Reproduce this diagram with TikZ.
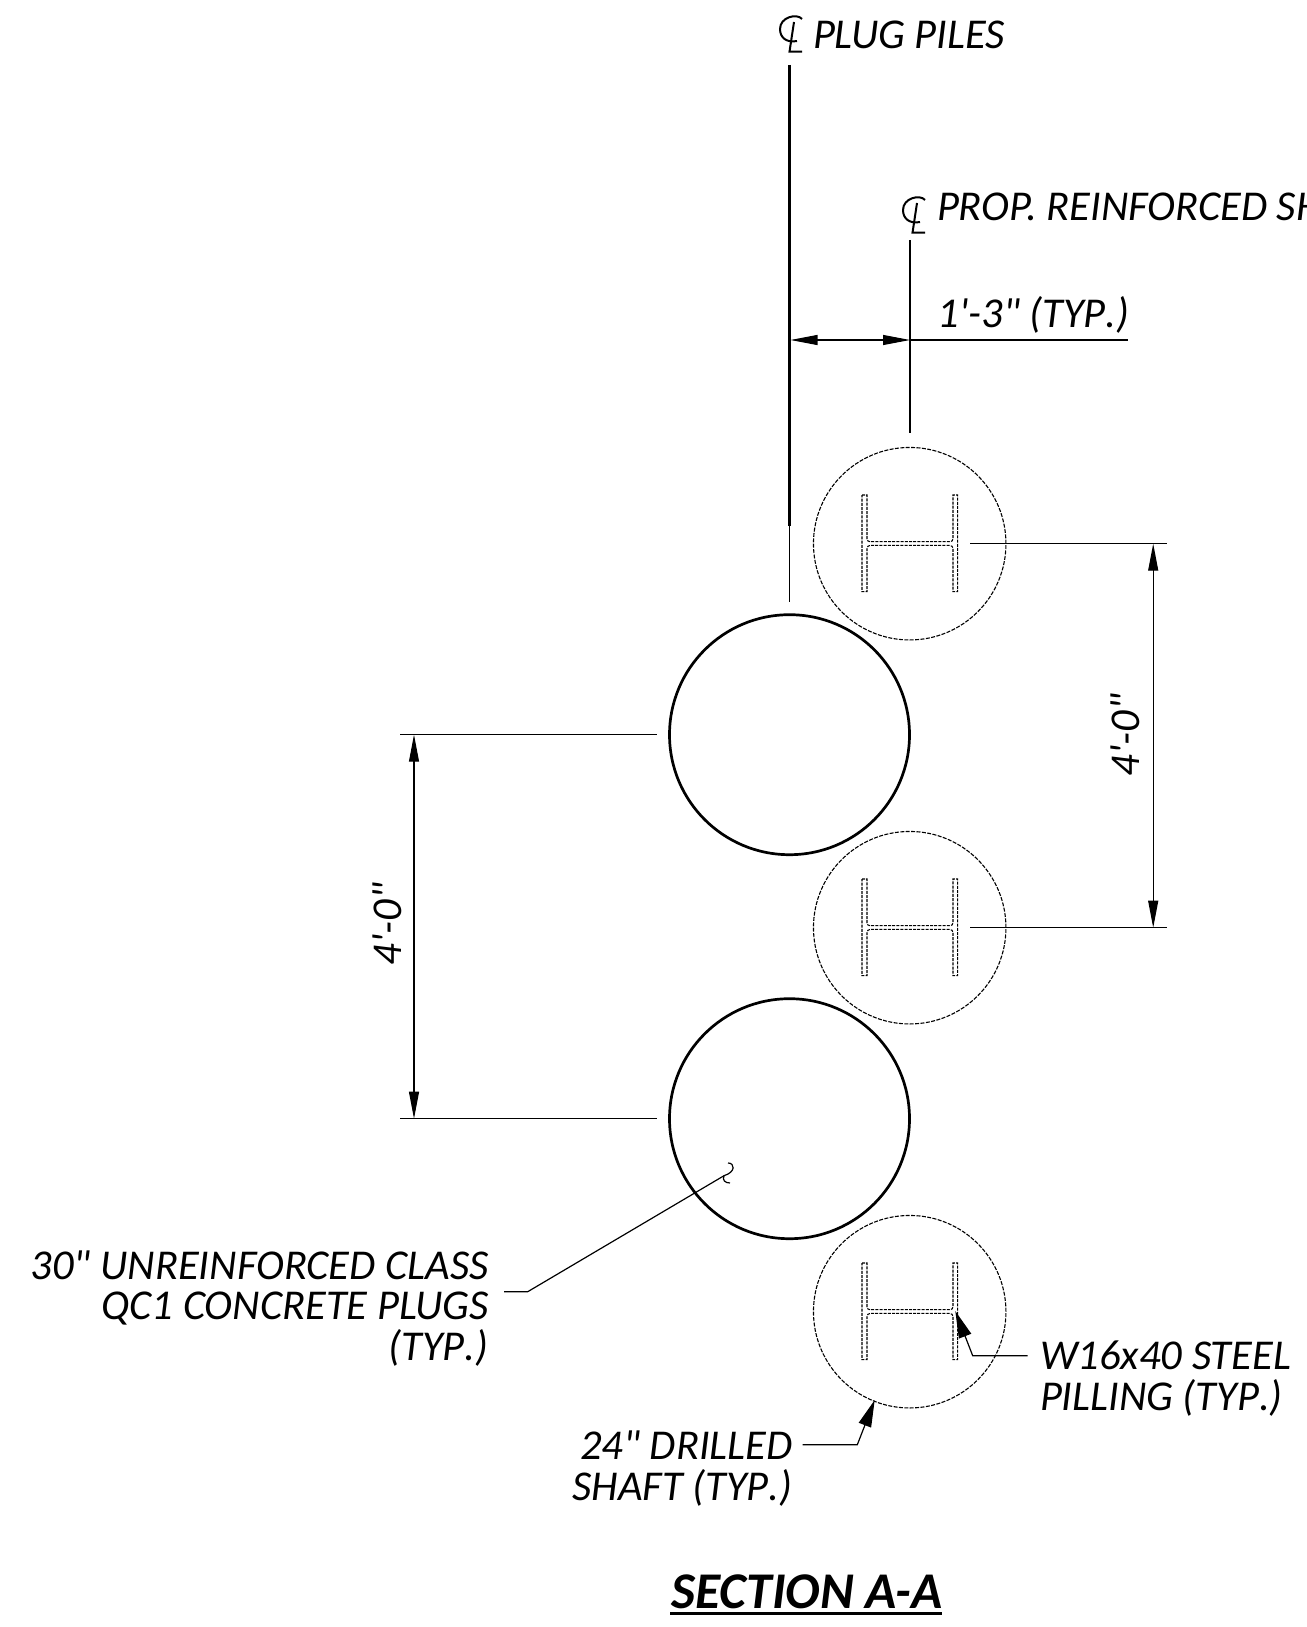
\documentclass[tikz,border=0pt]{standalone}
\usepackage{fontspec}
\usetikzlibrary{arrows.meta}
\newfontfamily\lbl{Carlito}
\newcommand{\typ}{{\addfontfeature{Kerning=Off}(TYP.)}}
\tikzset{
  x=1pt,y=-1pt,
  plug/.style={circle,draw,line width=2.7pt,minimum size=240pt,inner sep=0pt},
  shaft/.style={circle,draw,dash pattern=on 4pt off 1.4pt,line width=1.1pt,minimum size=192.5pt,inner sep=0pt},
  beamline/.style={line width=1.05pt,dash pattern=on 3pt off 1.2pt},
  ext/.style={line width=1.2pt},
  dim/.style={line width=1.05pt,{Triangle[length=27pt,width=10pt]}-{Triangle[length=27pt,width=10pt]}},
  lead/.style={line width=1.2pt,-{Triangle[length=27pt,width=13pt]}},
  txt/.style={font=\lbl\itshape\fontsize{42.5}{40.7}\selectfont,inner sep=0pt,outer sep=0pt},
  clmark/.pic={
    \draw[line width=2pt] (12,3) .. controls (7,-3) and (-10,1) .. (-10,13) .. controls (-10,22) and (-3,27) .. (7,25);
    \draw[line width=2pt] (4,6) -- (-0.5,35.7) -- (12,35.7);
  },
  hbeam/.pic={
    \draw[beamline] (-47.7,-48.7) -- (-42.7,-48.7) -- (-42.7,-5) .. controls (-42.7,-3) and (-41.5,-2) .. (-39.5,-2) -- (40,-2) .. controls (42,-2) and (43.3,-3) .. (43.3,-5) -- (43.3,-48.7) -- (48,-48.7) -- (48,48) -- (43.3,48) -- (43.3,5) .. controls (43.3,3) and (42,1.7) .. (40,1.7) -- (-39.5,1.7) .. controls (-41.5,1.7) and (-42.7,3) .. (-42.7,5) -- (-42.7,48) -- (-47.7,48) -- cycle;
  }
}
\begin{document}
\begin{tikzpicture}
\useasboundingbox (0,0) rectangle (1306,1627);
% plugs and shafts
\node[plug] (p1) at (789.5,734.7) {};
\node[plug] (p2) at (789.5,1118.7) {};
\node[shaft] (s1) at (909.7,543.7) {};
\node[shaft] (s2) at (909.7,927.7) {};
\node[shaft] (s3) at (909.7,1311.7) {};
\pic at (s1.center) {hbeam};
\pic at (s2.center) {hbeam};
\pic at (s3.center) {hbeam};
% centre lines
\coordinate (cla) at (789.7,65);
\coordinate (clb) at (789.7,526);
\coordinate (clc) at (789.7,602);
\draw[line width=2.6pt] (cla) -- (clb);
\draw[line width=1.3pt] (clb) -- (clc);
\coordinate (cpa) at (910,240);
\coordinate (cpb) at (910,433);
\draw[line width=1.4pt] (cpa) -- (cpb);
% top dimension
\coordinate (da) at (790.5,340);
\coordinate (db) at (910,340);
\coordinate (dc) at (1127.5,340);
\draw[dim] (da) -- (db);
\draw[ext] (db) -- (dc);
% right dimension
\coordinate (r1a) at (970,543.7);
\coordinate (r1b) at (1167,543.7);
\coordinate (r2a) at (970,927.7);
\coordinate (r2b) at (1167,927.7);
\coordinate (r1d) at (1153.2,543.7);
\coordinate (r2d) at (1153.2,927.7);
\draw[ext] (r1a) -- (r1b);
\draw[ext] (r2a) -- (r2b);
\draw[dim] (r1d) -- (r2d);
% left dimension
\coordinate (l1a) at (400,734.7);
\coordinate (l1b) at (656.5,734.7);
\coordinate (l2a) at (400,1118.7);
\coordinate (l2b) at (656.5,1118.7);
\coordinate (l1d) at (414,734.7);
\coordinate (l2d) at (414,1118.7);
\draw[ext] (l1a) -- (l1b);
\draw[ext] (l2a) -- (l2b);
\draw[dim] (l1d) -- (l2d);
% leaders
\coordinate (a0) at (504,1291.7);
\coordinate (a1) at (527.7,1291.7);
\coordinate (a2) at (724,1175.7);
\draw[ext] (a0) -- (a1) -- (a2);
\draw[line width=1.2pt] (728,1163) .. controls (735,1163) and (736,1172) .. (724,1175.7) .. controls (722,1180) and (725,1183) .. (730,1183);
\coordinate (b0) at (1027.7,1355.7);
\coordinate (b1) at (972.7,1355.7);
\coordinate (b2) at (955.3,1311);
\draw[lead] (b0) -- (b1) -- (b2);
\coordinate (c0) at (802.7,1444.7);
\coordinate (c1) at (857.3,1444.7);
\coordinate (c2) at (874.7,1400);
\draw[lead] (c0) -- (c1) -- (c2);
% texts
\pic at (790,16) {clmark};
\node[txt,anchor=base west] (t1) at (813,49) {PLUG PILES};
\pic at (913,197) {clmark};
\node[txt,anchor=base west] (t2) at (937,220) {PROP. REINFORCED SH};
\node[txt,anchor=base west] (t3) at (937.5,327.5) {1'-3" \typ};
\node[txt,anchor=center,rotate=90] (t4) at (1125,735) {4'-0"};
\node[txt,anchor=center,rotate=90] (t5) at (387,924) {4'-0"};
\node[txt,anchor=base east,align=right] (t6) at (488.5,1360.5) {30" UNREINFORCED CLASS\\QC1 CONCRETE PLUGS\\\typ};
\node[txt,anchor=base west,align=left] (t7) at (1040,1410) {W16x40 STEEL\\PILLING \typ};
\node[txt,anchor=base east,align=right] (t8) at (792.5,1500) {24" DRILLED\\SHAFT \typ};
\node[txt,font=\lbl\bfseries\itshape\fontsize{51.5}{51.5}\selectfont,anchor=base] (t9) at (807,1608.5) {SECTION A-A};
\coordinate (u0) at (670,1613);
\coordinate (u1) at (941.7,1613);
\draw[line width=3pt] (u0) -- (u1);
\end{tikzpicture}
\end{document}
